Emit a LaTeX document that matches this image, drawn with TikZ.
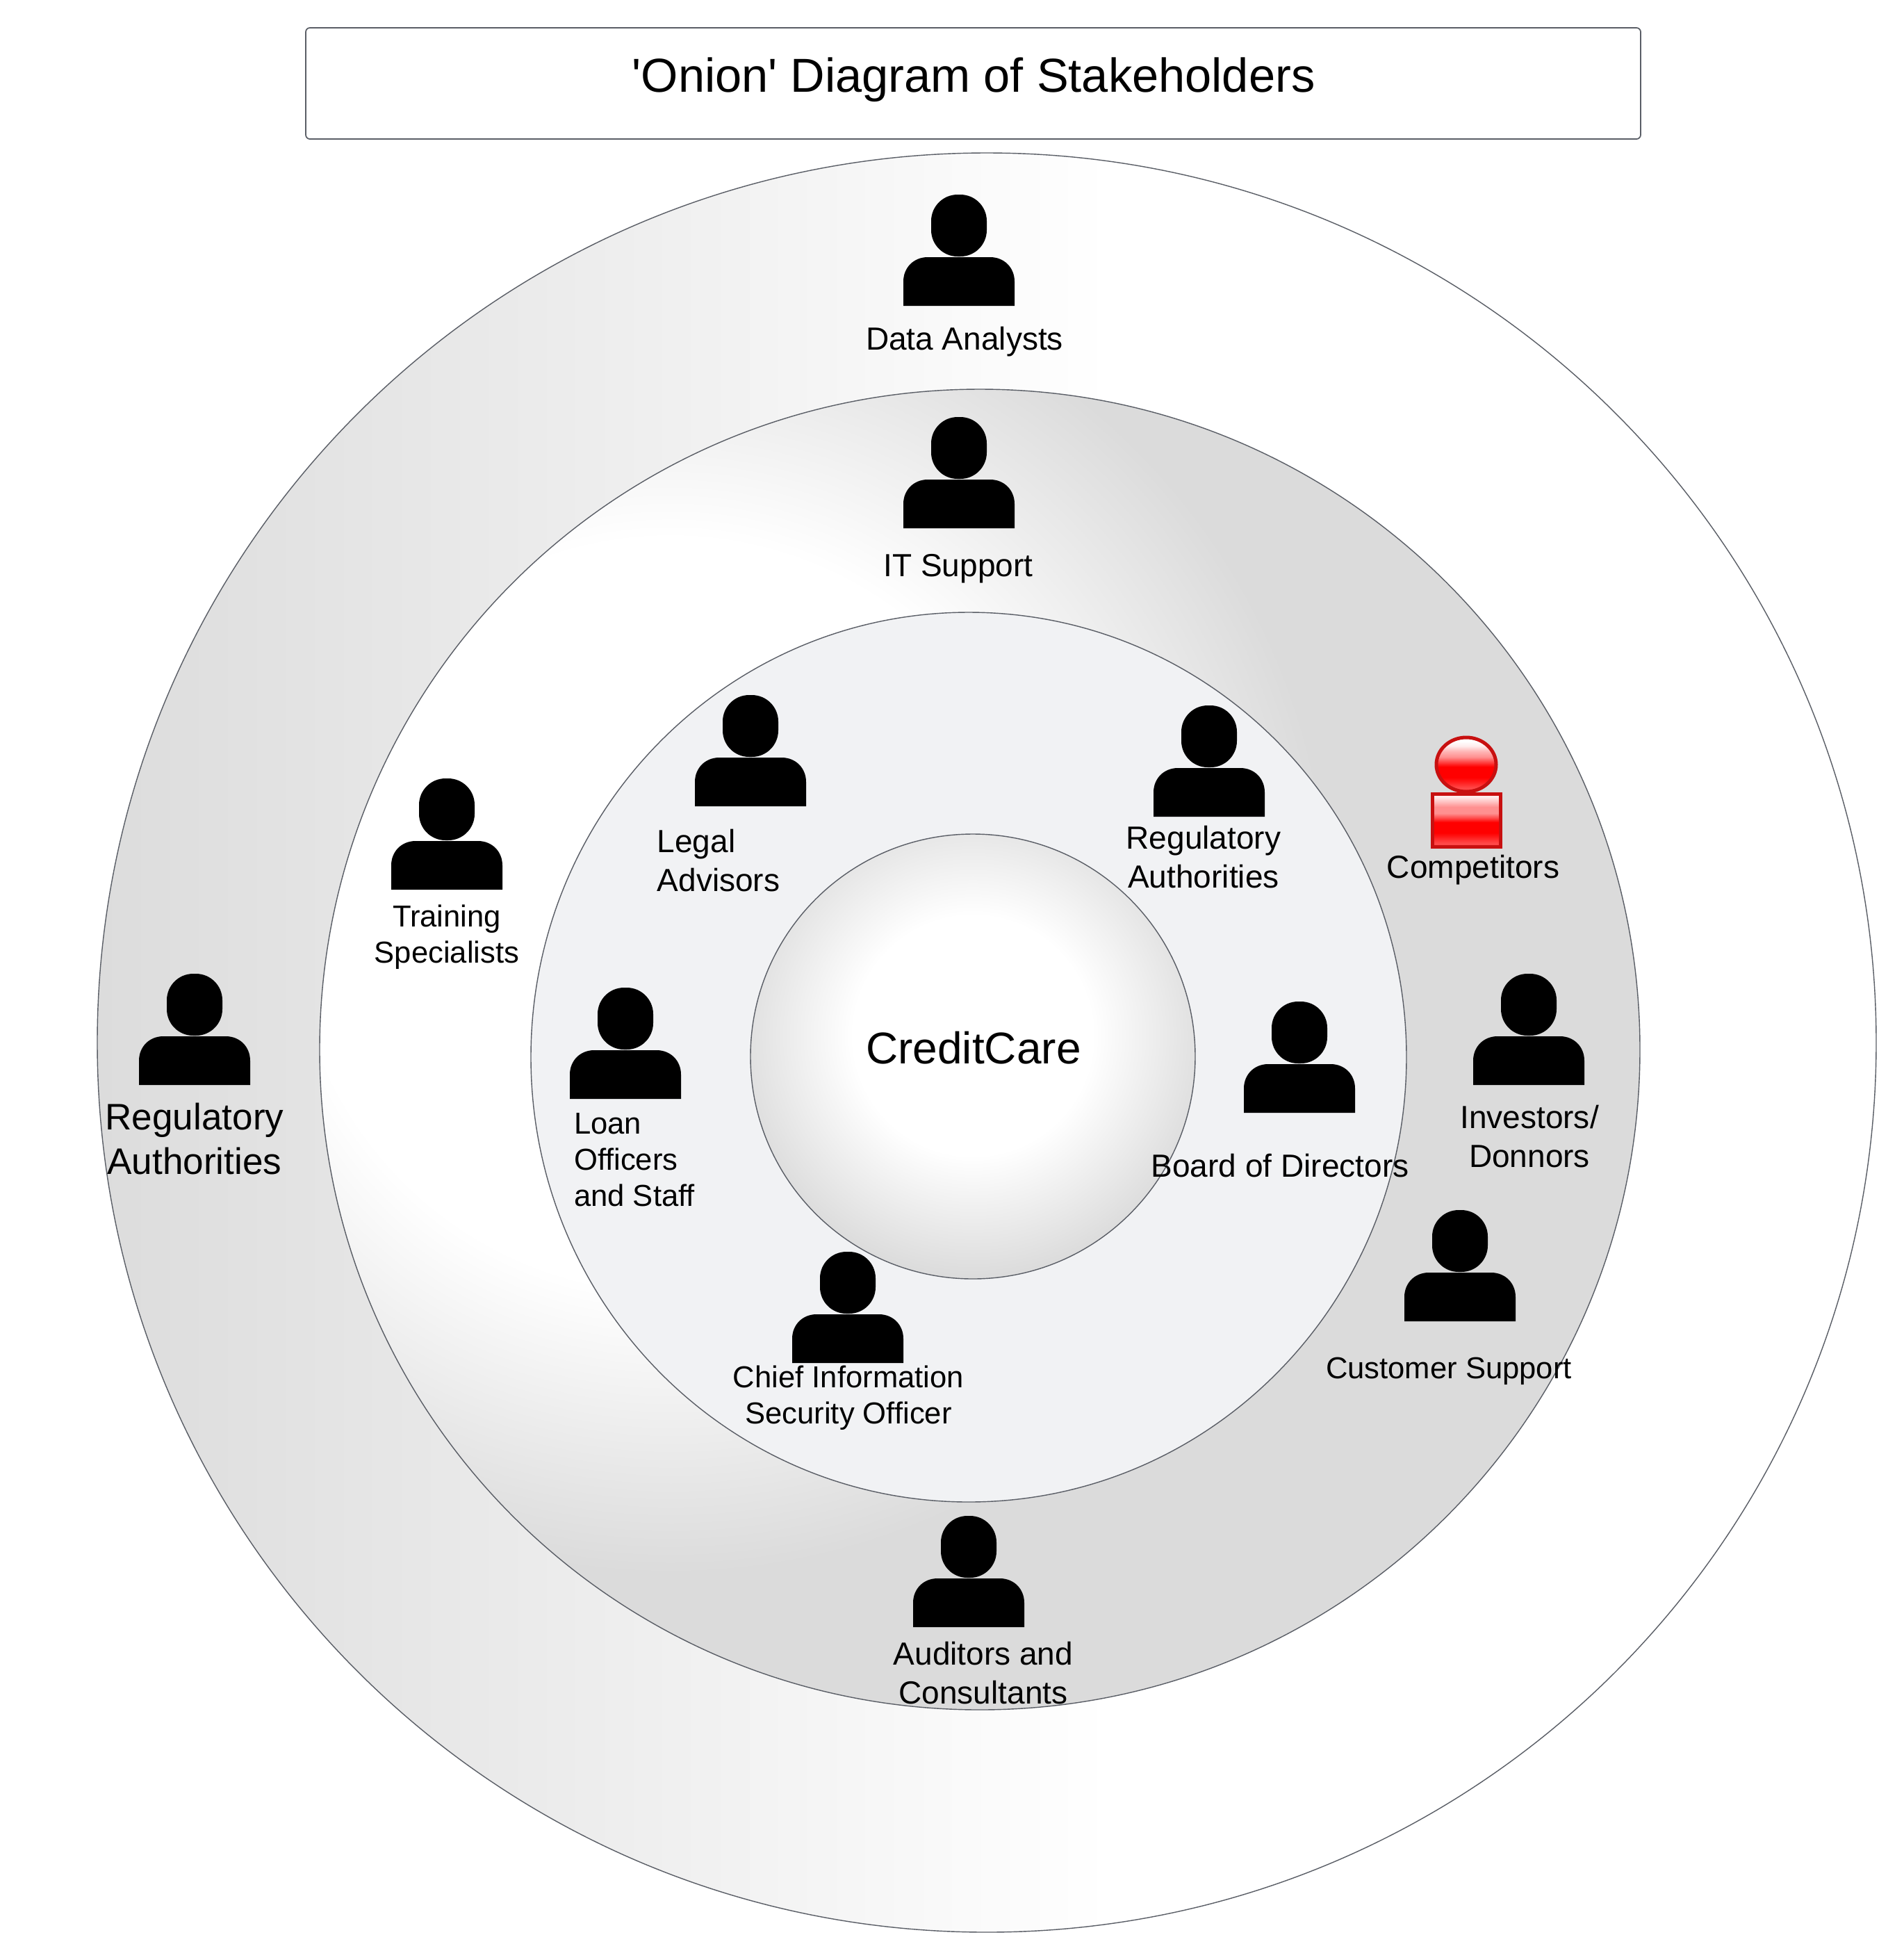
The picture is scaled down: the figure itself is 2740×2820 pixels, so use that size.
\documentclass[tikz,border=0pt]{standalone}
\usepackage{fontspec}
\setmainfont{Liberation Sans}
\newfontfamily\plainsans{Liberation Sans}

\definecolor{ringline}{HTML}{5A5E66}
\definecolor{ringgray}{HTML}{DBDBDB}
\definecolor{bandgray}{HTML}{DCDCDC}
\definecolor{corefill}{HTML}{F1F2F4}
\definecolor{redA}{HTML}{FF0000}
\definecolor{redF}{HTML}{FF2020}
\definecolor{redB}{HTML}{FF4848}
\definecolor{redC}{HTML}{FF9090}
\definecolor{redG}{HTML}{FFB8B8}
\definecolor{redD}{HTML}{FFECEC}
\definecolor{redE}{HTML}{C81010}

\pgfdeclarehorizontalshading{outerfade}{100bp}{color(0bp)=(bandgray); color(25bp)=(bandgray); color(53.5bp)=(white); color(100bp)=(white)}
\pgfdeclareradialshading{midglow}{\pgfpointorigin}{color(0bp)=(white); color(14.2bp)=(white); color(25bp)=(ringgray); color(50bp)=(ringgray)}
\pgfdeclareradialshading{coreglow}{\pgfpointorigin}{color(0bp)=(white); color(12.3bp)=(white); color(25bp)=(ringgray); color(50bp)=(ringgray)}
\pgfdeclareverticalshading{redbody}{100bp}{color(0bp)=(redB); color(28.5bp)=(redB); color(33.5bp)=(redF); color(38bp)=(redA); color(48bp)=(redA); color(52bp)=(redB); color(56.5bp)=(redC); color(62.5bp)=(redC); color(66.5bp)=(redG); color(72bp)=(redD); color(100bp)=(redD)}
\pgfdeclareverticalshading{redhead}{100bp}{color(0bp)=(redB); color(28.5bp)=(redB); color(33.5bp)=(redF); color(38bp)=(redA); color(48bp)=(redA); color(52.5bp)=(redB); color(57bp)=(redC); color(62.5bp)=(redG); color(67bp)=(redD); color(71.5bp)=(white); color(100bp)=(white)}

\tikzset{
  ring/.style={draw=ringline,line width=0.4pt},
  stakelbl/.style={inner sep=0pt,align=center,font=\fontsize{13.09pt}{15.7pt}\selectfont},
  stakesmall/.style={inner sep=0pt,align=center,font=\fontsize{12.4pt}{14.8pt}\selectfont},
  stakelarge/.style={inner sep=0pt,align=center,font=\fontsize{15.1pt}{18.2pt}\selectfont},
  person/.pic={
    \fill[black,rounded corners=0.38cm] (-40,-160) rectangle (40,-71);
    \fill[black] (-80,0) -- (-80,-35) .. controls (-80,-55) and (-65,-70) .. (-45,-70)
      -- (45,-70) .. controls (65,-70) and (80,-55) .. (80,-35) -- (80,0) -- cycle;
  }
}

\begin{document}
\begin{tikzpicture}[x=0.01cm,y=-0.01cm]
  \useasboundingbox (0,0) rectangle (2740,2820);
  \fill[white] (0,0) rectangle (2740,2820);

  % outer band
  \shade[shading=outerfade] (1420,1500) circle (1280);
  \draw[ring] (1420,1500) circle (1280);

  % middle band
  \begin{scope}
    \clip (1410,1510) circle (950);
    \fill[ringgray] (1410,1510) circle (950);
    \shade[shading=midglow] (965,1315) circle (950);
  \end{scope}
  \draw[ring] (1410,1510) circle (950);

  % inner band
  \draw[ring,fill=corefill] (1394,1521) ellipse (630 and 640);

  % core
  \begin{scope}
    \clip (1400,1520) circle (320);
    \shade[shading=coreglow] (1400,1490) circle (350);
  \end{scope}
  \draw[ring] (1400,1520) circle (320);
  \node[inner sep=0pt,font=\fontsize{18.2pt}{21pt}\selectfont] (core) at (1401,1508) {CreditCare};

  % title
  \draw[draw=ringline,line width=0.5pt,fill=white,rounded corners=0.06cm] (440,40) rectangle (2361,200);
  \node[inner sep=0pt,font=\plainsans\fontsize{19.5pt}{22pt}\selectfont] (title) at (1401,115) {'Onion' Diagram of Stakeholders};

  % people
  \foreach \x/\y in {1380/440,1380/760,1080/1160,643/1280,1740/1175,2200/1561,1870/1601,2101/1901,900/1581,1220/1961,1394/2341,280/1561}
    \pic at (\x,\y) {person};

  % red one
  \shade[shading=redhead,draw=redE,line width=0.05cm] (2110,1100) ellipse (43 and 39);
  \shade[shading=redbody,draw=redE,line width=0.05cm] (2061,1142) rectangle (2159,1218);

  % labels
  \node[stakelbl] (data) at (1388,492) {Data Analysts};
  \node[stakelbl] (itsup) at (1379,818) {IT Support};
  \node[stakelbl,align=left] (legal) at (1034,1238) {Legal\\Advisors};
  \node[stakesmall] (train) at (643,1348) {Training\\Specialists};
  \node[stakelbl] (regin) at (1732,1233) {Regulatory\\Authorities};
  \node[stakelbl] (comp) at (2120,1252) {Competitors};
  \node[stakelbl] (invest) at (2201,1635) {Investors/\\Donnors};
  \node[stakelbl] (board) at (1842,1677) {Board of Directors};
  \node[stakesmall] (cust) at (2085,1973) {Customer Support};
  \node[stakesmall,align=left] (loan) at (913,1669) {Loan\\Officers\\and Staff};
  \node[stakesmall] (ciso) at (1221,2011) {Chief Information\\Security Officer};
  \node[stakelbl] (audit) at (1415,2407) {Auditors and\\Consultants};
  \node[stakelarge] (regout) at (280,1638) {Regulatory\\Authorities};
\end{tikzpicture}
\end{document}
